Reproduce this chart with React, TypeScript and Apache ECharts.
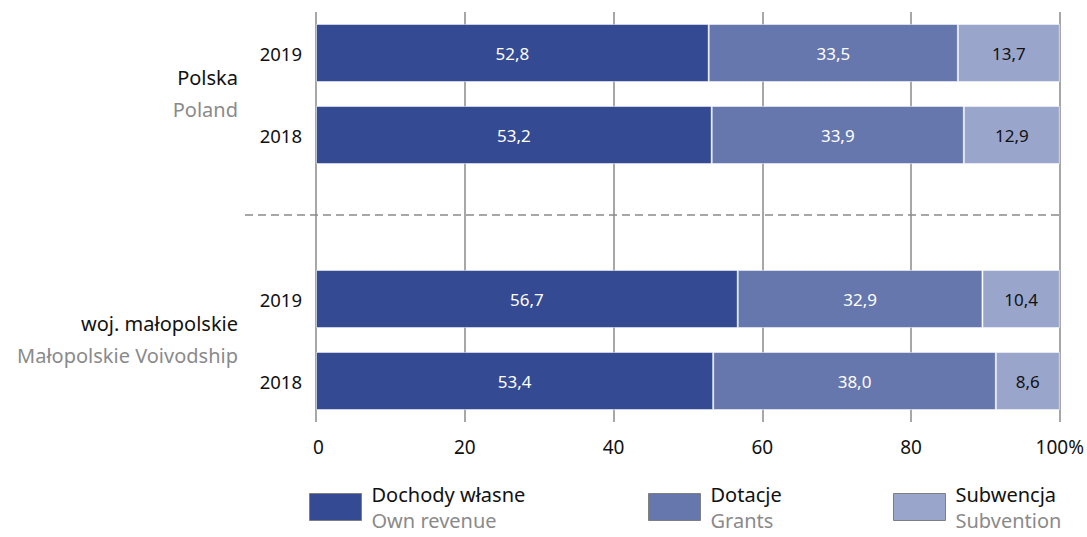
import React, { useEffect, useRef } from "react";
import * as echarts from "echarts";

const categories = ["PL-2019", "PL-2018", "gap", "MP-2019", "MP-2018"];
const yearLabels = ["2019", "2018", "", "2019", "2018"];
const ownRevenue = [52.8, 53.2, null, 56.7, 53.4];
const grants = [33.5, 33.9, null, 32.9, 38.0];
const subvention = [13.7, 12.9, null, 10.4, 8.6];
const xTicks = [0, 20, 40, 60, 80, 100];
const seriesNamesPL = ["Dochody własne", "Dotacje", "Subwencja"];
const seriesNamesEN = ["Own revenue", "Grants", "Subvention"];
const groups = [
  { pl: "Polska", en: "Poland", rows: ["PL-2019", "PL-2018"] },
  { pl: "woj. małopolskie", en: "Małopolskie Voivodship", rows: ["MP-2019", "MP-2018"] },
];

const COLORS = ["#344a92", "#6677ad", "#99a5cb"];
const FONT = "'Noto Sans', sans-serif";

export default function App() {
  const ref = useRef<HTMLDivElement>(null);
  useEffect(() => {
    if (!ref.current) return;
    const chart = echarts.init(ref.current, null, { renderer: "svg" });
    const fmt = (v: number) => v.toFixed(1).replace(".", ",");
    const seriesData = [ownRevenue, grants, subvention];
    const legendLefts = [309, 648, 893];
    chart.setOption({
      animation: false,
      textStyle: { fontFamily: FONT },
      grid: { left: 316, right: 22, top: 12, bottom: 115, containLabel: false },
      xAxis: {
        type: "value",
        min: 0,
        max: 100,
        interval: 20,
        axisLine: { show: false },
        axisTick: { show: false },
        splitLine: { show: true, lineStyle: { color: "#8a8a8a", width: 1.5 } },
        axisLabel: {
          fontSize: 19,
          color: "#111",
          margin: 15,
          fontFamily: FONT,
          formatter: (v: number) => (v === 100 ? "100%" : v === 0 ? " 0" : String(v)),
          customValues: xTicks,
        },
      },
      yAxis: {
        type: "category",
        inverse: true,
        data: categories,
        axisLine: { show: false },
        axisTick: { show: false },
        axisLabel: {
          fontSize: 18.5,
          color: "#111",
          margin: 14,
          fontFamily: FONT,
          formatter: (_v: string, i: number) => yearLabels[i],
        },
      },
      legend: seriesNamesPL.map((name, i) => ({
        data: [name],
        left: legendLefts[i],
        top: 484,
        padding: 0,
        itemWidth: 52,
        itemHeight: 27,
        itemGap: 10,
        selectedMode: false,
        icon: "rect",
        itemStyle: { borderColor: "#7f7f7f", borderWidth: 1 },
        formatter: (n: string) => `{a|${n}}\n{b|${seriesNamesEN[seriesNamesPL.indexOf(n)]}}`,
        textStyle: {
          rich: {
            a: { fontSize: 20, color: "#111", fontFamily: FONT, lineHeight: 26, padding: [0, 0, 0, 5] },
            b: { fontSize: 20, color: "#8a8a8a", fontFamily: FONT, lineHeight: 26, padding: [0, 0, 0, 5] },
          },
        },
      })),
      series: seriesNamesPL.map((name, i) => ({
        name,
        type: "bar",
        stack: "total",
        barCategoryGap: "29%",
        data: seriesData[i],
        itemStyle: { color: COLORS[i], borderColor: "rgba(255,255,255,0.55)", borderWidth: 1 },
        label: {
          show: true,
          position: "inside",
          fontSize: 17,
          fontFamily: FONT,
          color: i === 2 ? "#111" : "#fff",
          formatter: (p: any) => fmt(p.value),
        },
      })),
    });

    const graphics: any[] = [];
    groups.forEach((g) => {
      const y1 = chart.convertToPixel({ yAxisIndex: 0 }, g.rows[0]) as number;
      const y2 = chart.convertToPixel({ yAxisIndex: 0 }, g.rows[1]) as number;
      const mid = (y1 + y2) / 2;
      graphics.push({
        type: "text",
        x: 238,
        y: mid - 17,
        style: { text: g.pl, fill: "#111", font: `20px ${FONT}`, align: "right", verticalAlign: "middle" },
      });
      graphics.push({
        type: "text",
        x: 238,
        y: mid + 15,
        style: { text: g.en, fill: "#8a8a8a", font: `20px ${FONT}`, align: "right", verticalAlign: "middle" },
      });
    });
    const yGap = chart.convertToPixel({ yAxisIndex: 0 }, "gap") as number;
    const xEnd = chart.convertToPixel({ xAxisIndex: 0 }, 100) as number;
    graphics.push({
      type: "line",
      shape: { x1: 245, y1: yGap - 2, x2: xEnd, y2: yGap - 2 },
      style: { stroke: "#8a8a8a", lineWidth: 1.5, lineDash: [8, 5] },
    });
    chart.setOption({ graphic: graphics });

    return () => chart.dispose();
  }, []);
  return (
    <div
      ref={ref}
      style={{ position: "fixed", left: 0, top: 0, width: 1087, height: 537, background: "#fff" }}
    />
  );
}
